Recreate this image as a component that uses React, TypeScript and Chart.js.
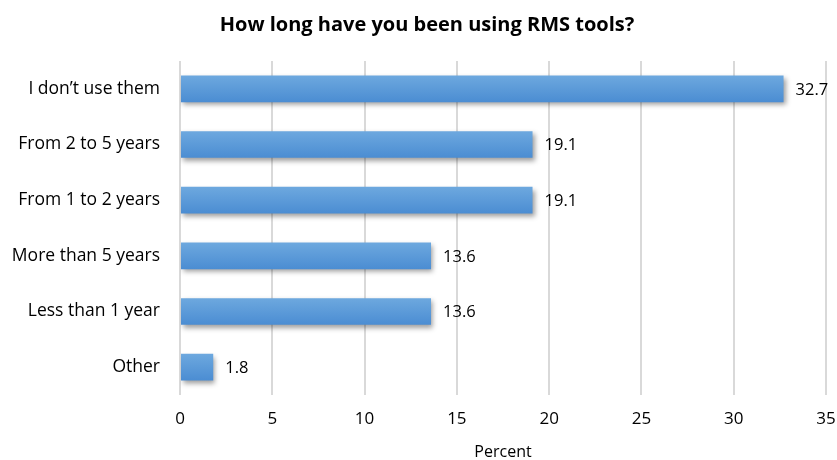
import React, { useEffect, useRef } from "react";
import { Chart, registerables } from "chart.js";

Chart.register(...registerables);

const categories = [
  "I don\u2019t use them",
  "From 2 to 5 years",
  "From 1 to 2 years",
  "More than 5 years",
  "Less than 1 year",
  "Other",
];
const percentValues = [32.7, 19.1, 19.1, 13.6, 13.6, 1.8];
const xTicksMax = 35;
const xTicksStep = 5;
const chartTitle = "How long have you been using RMS tools?";
const xAxisTitle = "Percent";

const FONT = "'Open Sans', Lato, sans-serif";

const barShadowPlugin = {
  id: "barShadow",
  beforeDatasetsDraw(chart: any) {
    const ctx = chart.ctx;
    ctx.save();
    ctx.shadowColor = "rgba(0,0,0,0.38)";
    ctx.shadowBlur = 5;
    ctx.shadowOffsetX = 2;
    ctx.shadowOffsetY = 3;
  },
  afterDatasetsDraw(chart: any) {
    chart.ctx.restore();
  },
};

const valueLabelPlugin = {
  id: "valueLabels",
  afterDatasetsDraw(chart: any) {
    const ctx = chart.ctx;
    const meta = chart.getDatasetMeta(0);
    ctx.save();
    ctx.font = `16.5px ${FONT}`;
    ctx.fillStyle = "#000";
    ctx.textAlign = "left";
    ctx.textBaseline = "middle";
    meta.data.forEach((bar: any, i: number) => {
      ctx.fillText(percentValues[i].toFixed(1), bar.x + 12, bar.y + 1);
    });
    ctx.restore();
  },
};

const titlePlugin = {
  id: "offsetTitle",
  afterDraw(chart: any) {
    const ctx = chart.ctx;
    ctx.save();
    ctx.font = `bold 20px ${FONT}`;
    ctx.fillStyle = "#000";
    ctx.textAlign = "center";
    ctx.textBaseline = "middle";
    ctx.fillText(chartTitle, 427, 25);
    ctx.restore();
  },
};

export default function App() {
  const canvasRef = useRef<HTMLCanvasElement | null>(null);

  useEffect(() => {
    document.body.style.margin = "0";
    const canvas = canvasRef.current;
    if (!canvas) return;
    const chart = new Chart(canvas, {
      type: "bar",
      data: {
        labels: categories,
        datasets: [
          {
            data: percentValues,
            barPercentage: 0.6,
            categoryPercentage: 0.8,
            borderWidth: 0,
            backgroundColor: (c: any) => {
              const ch = c.chart;
              const y = ch.scales?.y;
              if (!y || c.dataIndex === undefined) return "#5a9ad8";
              const cy = y.getPixelForValue(c.dataIndex);
              if (!Number.isFinite(cy)) return "#5a9ad8";
              const half = 14;
              const g = ch.ctx.createLinearGradient(0, cy - half, 0, cy + half);
              g.addColorStop(0, "#6ea9df");
              g.addColorStop(1, "#4a8cd2");
              return g;
            },
          },
        ],
      },
      options: {
        indexAxis: "y",
        responsive: false,
        animation: false,
        layout: { padding: { left: 0, right: 11, top: 61, bottom: 0 } },
        plugins: {
          legend: { display: false },
          tooltip: { enabled: false },
          title: { display: false },
        },
        scales: {
          x: {
            min: 0,
            max: xTicksMax,
            ticks: {
              stepSize: xTicksStep,
              color: "#000",
              font: { family: FONT, size: 17 },
              padding: 0,
            },
            grid: {
              color: "#d9d9d9",
              lineWidth: 2,
              drawTicks: true,
              tickLength: 14,
              tickColor: "rgba(0,0,0,0)",
            },
            border: { display: false },
            title: {
              display: true,
              text: xAxisTitle,
              color: "#000",
              font: { family: FONT, size: 16, lineHeight: 1 },
              padding: { top: 0, bottom: 0 },
            },
            afterFit: (s: any) => {
              s.height = 65;
            },
          },
          y: {
            ticks: {
              color: "#000",
              font: { family: FONT, size: 17.5 },
              padding: 20,
            },
            grid: { display: false, drawTicks: false },
            border: { display: false },
            afterFit: (s: any) => {
              s.width = 180;
            },
          },
        },
      },
      plugins: [barShadowPlugin, valueLabelPlugin, titlePlugin],
    } as any);
    return () => chart.destroy();
  }, []);

  return (
    <div style={{ width: 837, height: 460, background: "#fff" }}>
      <canvas ref={canvasRef} width={837} height={460} />
    </div>
  );
}
